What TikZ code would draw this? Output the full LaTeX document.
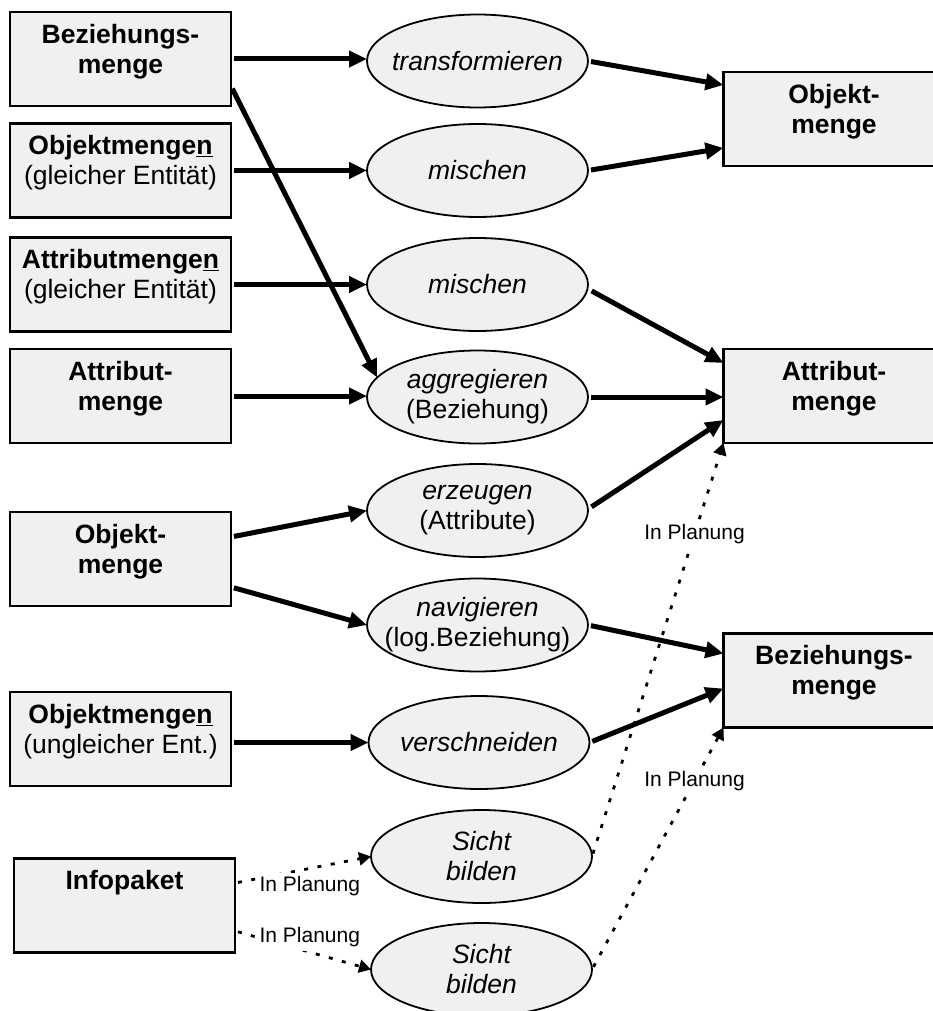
\documentclass[tikz,border=0pt]{standalone}
\usepackage{fontspec}
\setmainfont{Liberation Sans}
\usetikzlibrary{arrows.meta,shapes.geometric,calc}
\definecolor{boxfill}{RGB}{240,240,240}
\begin{document}
\begin{tikzpicture}[x=1pt,y=-1pt,
  setbox/.style={draw=black, line width=2.3pt, fill=boxfill, minimum width=221pt,
    minimum height=94pt, inner sep=0pt, outer sep=0pt},
  opbox/.style={ellipse, draw=black, line width=1.8pt, fill=boxfill, minimum width=221pt,
    minimum height=93pt, inner sep=0pt, outer sep=0pt},
  settext/.style={anchor=north, inner sep=0pt, align=center,
    font=\fontsize{26.5pt}{30pt}\selectfont},
  optext/.style={inner sep=0pt, align=center, font=\fontsize{26.5pt}{30pt}\selectfont},
  flow/.style={line width=5pt, -{Triangle[length=18pt,width=16pt]}, shorten <=3pt},
  planned/.style={line width=2.8pt, dash pattern=on 4pt off 9.5pt,
    -{Triangle[length=12pt,width=13pt]}, shorten <=3pt},
  note/.style={font=\fontsize{21pt}{24pt}\selectfont, fill=white, inner sep=4pt}
]
\useasboundingbox (0,0) rectangle (933,1011);
\fill[white] (0,0) rectangle (933,1011);
\clip (0,0) rectangle (933,1011);

% sources (left column)
\node[setbox] (b1) at (120.5,59) {};
\node[settext] (b1t) at ($(b1.north)+(0,12)$) {\bfseries Beziehungs-\\\bfseries menge};
\node[setbox] (b2) at (120.5,170.5) {};
\node[settext] (b2t) at ($(b2.north)+(0,12)$) {\textbf{Objektmenge\underline{n}}\\(gleicher Entität)};
\node[setbox] (b3) at (120.5,284.5) {};
\node[settext] (b3t) at ($(b3.north)+(0,12)$) {\textbf{Attributmenge\underline{n}}\\(gleicher Entität)};
\node[setbox] (b4) at (120.5,396) {};
\node[settext] (b4t) at ($(b4.north)+(0,12)$) {\bfseries Attribut-\\\bfseries menge};
\node[setbox] (b5) at (120.5,559) {};
\node[settext] (b5t) at ($(b5.north)+(0,12)$) {\bfseries Objekt-\\\bfseries menge};
\node[setbox] (b6) at (120.5,739) {};
\node[settext] (b6t) at ($(b6.north)+(0,12)$) {\textbf{Objektmenge\underline{n}}\\(ungleicher Ent.)};
\node[setbox] (ip) at (124.5,905.5) {};
\node[settext] (ipt) at ($(ip.north)+(0,12)$) {\bfseries Infopaket};

% results (right column)
\node[setbox] (ob) at (834,119) {};
\node[settext] (obt) at ($(ob.north)+(0,12)$) {\bfseries Objekt-\\\bfseries menge};
\node[setbox] (ab) at (834,396) {};
\node[settext] (abt) at ($(ab.north)+(0,12)$) {\bfseries Attribut-\\\bfseries menge};
\node[setbox] (bb) at (834,680.5) {};
\node[settext] (bbt) at ($(bb.north)+(0,12)$) {\bfseries Beziehungs-\\\bfseries menge};

% operations
\node[opbox] (e1) at (477.5,61) {};
\node[optext] (e1t) at (e1) {\itshape transformieren};
\node[opbox] (e2) at (477.5,170.5) {};
\node[optext] (e2t) at (e2) {\itshape mischen};
\node[opbox] (e3) at (477.5,284.5) {};
\node[optext] (e3t) at (e3) {\itshape mischen};
\node[opbox] (e4) at (477.5,397) {};
\node[optext] (e4t) at (e4) {\itshape aggregieren\\(Beziehung)};
\node[opbox] (e5) at (477.5,510.5) {};
\node[optext] (e5t) at (e5) {\itshape erzeugen\\(Attribute)};
\node[opbox] (e6) at (477.5,625) {};
\node[optext] (e6t) at (e6) {\itshape navigieren\\(log.Beziehung)};
\node[opbox] (e7) at (479,742.5) {};
\node[optext] (e7t) at (e7) {\itshape verschneiden};
\node[opbox] (e8) at (481.5,856.5) {};
\node[optext] (e8t) at (e8) {\itshape Sicht\\\itshape bilden};
\node[opbox] (e9) at (481.5,969.5) {};
\node[optext] (e9t) at (e9) {\itshape Sicht\\\itshape bilden};

% inputs
\draw[flow] (b1.east) -- (b1.east -| e1.west);
\draw[flow] ($(b1.east)+(0,27)$) -- (e4.169);
\draw[flow] (b2.east) -- (e2.west);
\draw[flow] (b3.east) -- (e3.west);
\draw[flow] (b4.east) -- (b4.east -| e4.west);
\draw[flow] ($(b5.east)+(0,-22)$) -- (e5.west);
\draw[flow] ($(b5.east)+(0,28)$) -- (e6.west);
\draw[flow] (e7.west -| b6.east) -- (e7.west);

% outputs
\draw[flow] (e1.east) -- ($(ob.north west)+(0,13)$);
\draw[flow] (e2.east) -- ($(ob.west)+(0,29)$);
\draw[flow] ($(e3.east)+(1,5)$) -- ($(ab.north west)+(0,14)$);
\draw[flow] (e4.east) -- (e4.east -| ab.west);
\draw[flow] ($(e5.east)+(1,-2)$) -- ($(ab.west)+(0,24)$);
\draw[flow] (e6.east) -- ($(bb.west)+(0,-27)$);
\draw[flow] (e7.east) -- ($(bb.west)+(0,8)$);

% planned connections
\draw[planned] (e8.east) -- (ab.south west) node[pos=0.78, note] (n1) {In Planung};
\draw[planned] (e9.east) -- (bb.south west) node[pos=0.78, note] (n2) {In Planung};
\draw[planned] ($(ip.east)+(0,-22.5)$) -- (e8.west)
  node[pos=0.55, yshift=-18pt, note] (n3) {In Planung};
\draw[planned] ($(ip.east)+(0,25.5)$) -- (e9.west)
  node[pos=0.55, yshift=15pt, note] (n4) {In Planung};
\end{tikzpicture}
\end{document}
